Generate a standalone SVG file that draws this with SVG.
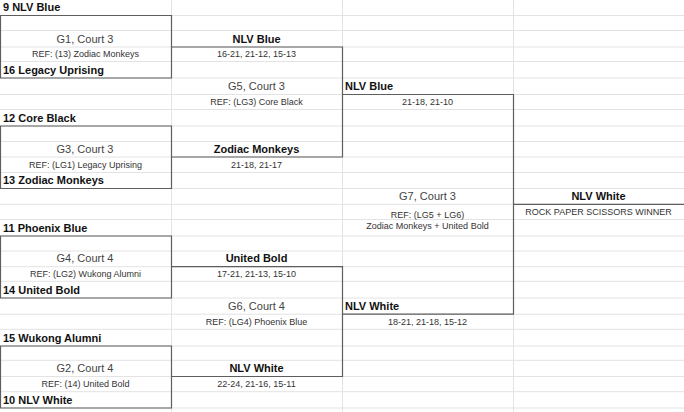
<svg xmlns="http://www.w3.org/2000/svg" width="684" height="412" viewBox="0 0 684 412">
<style>
.grid{stroke:#e3e3e3;stroke-width:1;fill:none}
.br{stroke:#5e5e5e;stroke-width:1.2;fill:none}
text{font-family:"Liberation Sans",Arial,sans-serif}
.team{font-size:11px;font-weight:bold;fill:#111}
.win{font-size:11px;font-weight:bold;fill:#111;text-anchor:middle}
.court{font-size:11px;fill:#444;text-anchor:middle}
.small{font-size:9px;fill:#333;text-anchor:middle}
</style>
<rect width="684" height="412" fill="#fff"/>
<g id="gridlines" class="grid">
<path d="M0,15.5H684M0,30.5H684M0,47H684M0,61.5H684M0,78H684M0,94.5H684M0,109.5H684M0,126H684M0,141.5H684M0,157H684M0,172.5H684M0,188.5H684M0,204.3H684M0,219.5H684M0,236H684M0,251H684M0,266.7H684M0,281.3H684M0,298H684M0,314.2H684M0,329.3H684M0,346H684M0,360.3H684M0,376.5H684M0,391.7H684M0,408H684"/>
<path d="M171.5,0V412M342.5,0V412M513.5,0V412"/>
</g>
<g id="connectors" class="br">
<path d="M0.5,15.5H171.5V78H0.5Z"/>
<path d="M0.5,126H171.5V188.5H0.5Z"/>
<path d="M0.5,236H171.5V298H0.5Z"/>
<path d="M0.5,346H171.5V408H0.5Z"/>
<path d="M171.5,47H342.5V157H171.5"/>
<path d="M171.5,266.7H342.5V376.5H171.5"/>
<path d="M342.5,94.5H513.5V314.2H342.5"/>
<path d="M513.5,204.3H684"/>
</g>
<g id="G1">
<text class="team" x="3" y="11.2">9 NLV Blue</text>
<text class="court" x="85" y="42.7">G1, Court 3</text>
<text class="small" x="85.5" y="57.2">REF: (13) Zodiac Monkeys</text>
<text class="team" x="3" y="73.7">16 Legacy Uprising</text>
</g>
<g id="G3">
<text class="team" x="3" y="121.7">12 Core Black</text>
<text class="court" x="85" y="152.7">G3, Court 3</text>
<text class="small" x="85.5" y="168.2">REF: (LG1) Legacy Uprising</text>
<text class="team" x="3" y="184.2">13 Zodiac Monkeys</text>
</g>
<g id="G4">
<text class="team" x="3" y="231.7">11 Phoenix Blue</text>
<text class="court" x="85" y="262.4">G4, Court 4</text>
<text class="small" x="85.5" y="277">REF: (LG2) Wukong Alumni</text>
<text class="team" x="3" y="293.7">14 United Bold</text>
</g>
<g id="G2">
<text class="team" x="3" y="341.7">15 Wukong Alumni</text>
<text class="court" x="85" y="372.2">G2, Court 4</text>
<text class="small" x="85.5" y="387.4">REF: (14) United Bold</text>
<text class="team" x="3" y="403.7">10 NLV White</text>
</g>
<g id="G5">
<text class="win" x="256.5" y="42.7">NLV Blue</text>
<text class="small" x="256.5" y="57.2">16-21, 21-12, 15-13</text>
<text class="court" x="256.5" y="89.7">G5, Court 3</text>
<text class="small" x="256.5" y="105.2">REF: (LG3) Core Black</text>
<text class="win" x="256.5" y="152.7">Zodiac Monkeys</text>
<text class="small" x="256.5" y="168.2">21-18, 21-17</text>
</g>
<g id="G6">
<text class="win" x="256.5" y="262.4">United Bold</text>
<text class="small" x="256.5" y="277">17-21, 21-13, 15-10</text>
<text class="court" x="256.5" y="309.9">G6, Court 4</text>
<text class="small" x="256.5" y="325">REF: (LG4) Phoenix Blue</text>
<text class="win" x="256.5" y="372.2">NLV White</text>
<text class="small" x="256.5" y="387.4">22-24, 21-16, 15-11</text>
</g>
<g id="G7">
<text class="team" x="345" y="89.7">NLV Blue</text>
<text class="small" x="427.5" y="105.2">21-18, 21-10</text>
<text class="court" x="427.5" y="200">G7, Court 3</text>
<text class="small" x="427.5" y="217.7">REF: (LG5 + LG6)</text>
<text class="small" x="427.5" y="229.3">Zodiac Monkeys + United Bold</text>
<text class="team" x="345" y="309.9">NLV White</text>
<text class="small" x="427.5" y="325">18-21, 21-18, 15-12</text>
</g>
<g id="final">
<text class="win" x="598.5" y="200">NLV White</text>
<text class="small" x="598.5" y="215.2">ROCK PAPER SCISSORS WINNER</text>
</g>
</svg>
